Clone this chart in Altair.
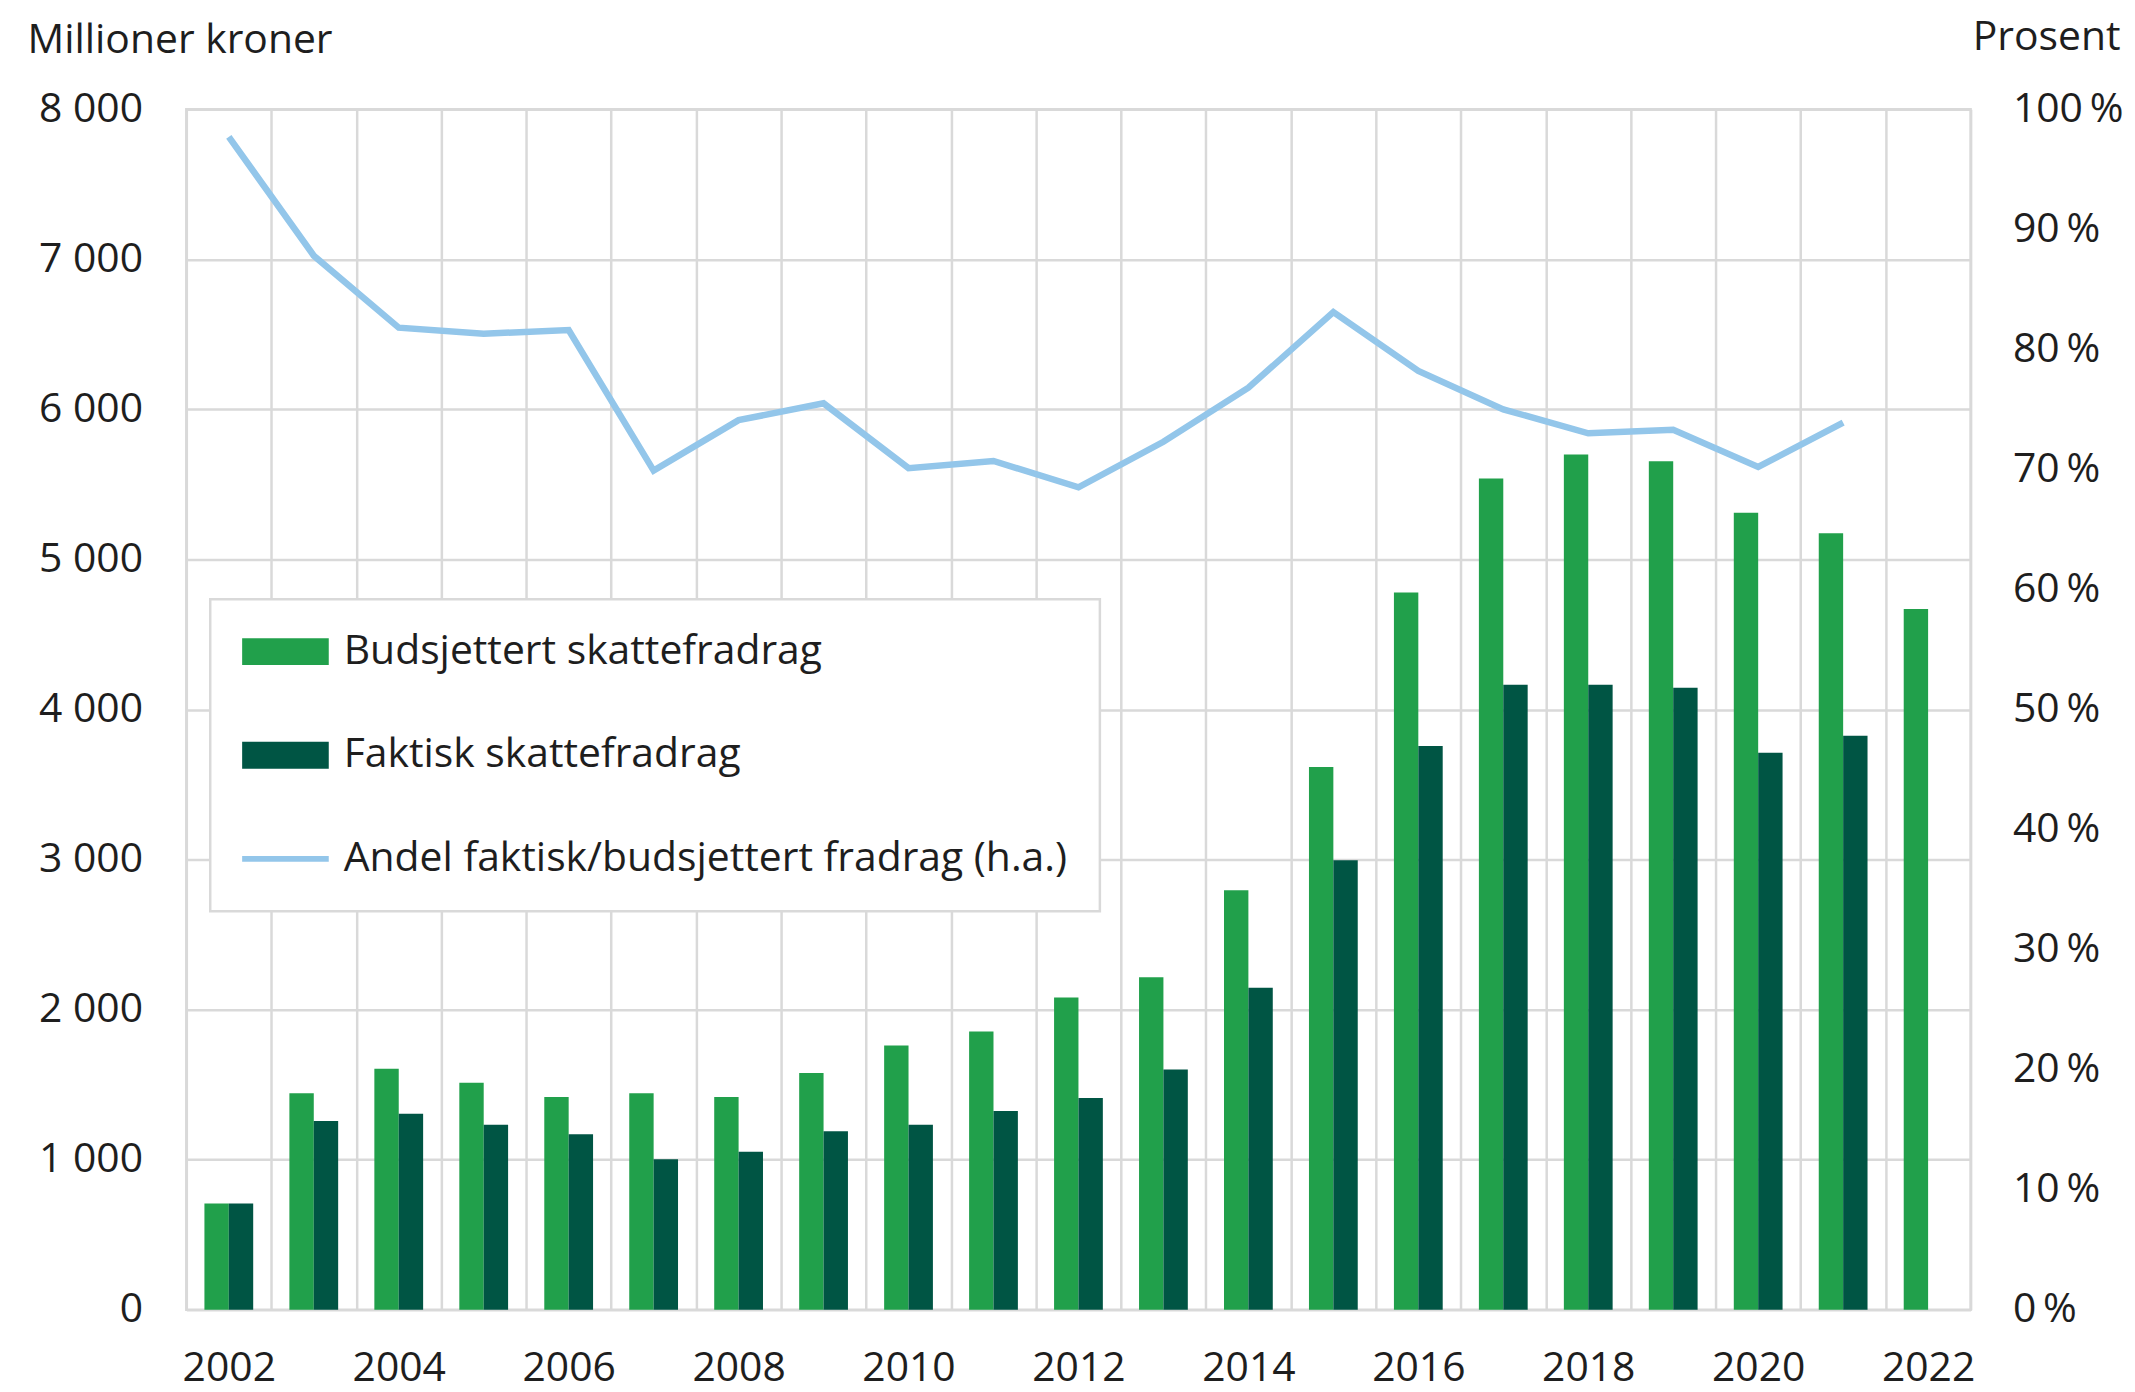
import altair as alt
import pandas as pd

years = ["2002", "2003", "2004", "2005", "2006", "2007", "2008", "2009", "2010", "2011",
         "2012", "2013", "2014", "2015", "2016", "2017", "2018", "2019", "2020", "2021", "2022"]
budsjettert = [708, 1443, 1605, 1512, 1417, 1443, 1417, 1578, 1760, 1853,
               2080, 2215, 2795, 3616, 4780, 5539, 5699, 5654, 5311, 5174, 4670]
faktisk = [708, 1257, 1306, 1233, 1169, 1003, 1052, 1189, 1233, 1324,
           1410, 1600, 2145, 2995, 3756, 4165, 4165, 4145, 3711, 3824, None]
andel_years = years[:20]
andel = [97.7, 87.8, 81.8, 81.3, 81.6, 69.9, 74.1, 75.5, 70.1, 70.7,
         68.5, 72.3, 76.8, 83.1, 78.2, 75.0, 73.0, 73.3, 70.2, 73.9]

S1 = "Budsjettert skattefradrag"
S2 = "Faktisk skattefradrag"
S3 = "Andel faktisk/budsjettert fradrag (h.a.)"
series_names = [S1, S2, S3]
series_colors = ["#21A04B", "#005544", "#93C6EA"]
legend_shapes = [
    "M-3.22,-1L3.22,-1L3.22,1L-3.22,1Z",
    "M-3.22,-1L3.22,-1L3.22,1L-3.22,1Z",
    "M-3.22,-0.22L3.22,-0.22L3.22,0.22L-3.22,0.22Z",
]
y_left_ticks = [0, 1000, 2000, 3000, 4000, 5000, 6000, 7000, 8000]
y_right_ticks = [0, 10, 20, 30, 40, 50, 60, 70, 80, 90, 100]

rows = []
for yr, b, f in zip(years, budsjettert, faktisk):
    rows.append({"year": yr, "series": S1, "value": b})
    if f is not None:
        rows.append({"year": yr, "series": S2, "value": f})
bar_df = pd.DataFrame(rows)
line_df = pd.DataFrame({"year": andel_years, "andel": andel, "series": S3})
legend_df = pd.DataFrame({"series": series_names})

FONT = "Open Sans"
FS = 41
TXT = "#1e1e1e"
GRID = "#D9D9D9"

x_enc = alt.X(
    "year:N",
    sort=years,
    scale=alt.Scale(domain=years, paddingInner=0, paddingOuter=0),
    axis=alt.Axis(
        title=None, labelAngle=0, labelExpr="toNumber(datum.label) % 2 == 0 ? datum.label : ''",
        labelOverlap=False, domain=False, ticks=False, tickSize=0, tickBand="extent",
        labelPadding=71, labelBaseline="alphabetic", grid=True,
    ),
)

bars = alt.Chart(bar_df).mark_bar().encode(
    x=x_enc,
    xOffset=alt.XOffset("series:N", scale=alt.Scale(domain=[S1, S2], paddingInner=0, paddingOuter=0.742)),
    y=alt.Y(
        "value:Q",
        scale=alt.Scale(domain=[0, 8000], nice=False),
        axis=alt.Axis(
            title="Millioner kroner", values=y_left_ticks,
            labelExpr="replace(format(datum.value, ','), ',', ' ')",
            domain=False, ticks=False, tickSize=0, labelPadding=44, labelBaseline="middle",
            titleAngle=0, titleAlign="left", titleBaseline="alphabetic",
            titleX=-160, titleY=-57, grid=True,
        ),
    ),
    fill=alt.Fill("series:N", scale=alt.Scale(domain=[S1, S2], range=series_colors[:2]), legend=None),
)

line = alt.Chart(line_df).mark_line(strokeWidth=6.5, color=series_colors[2]).encode(
    x=x_enc,
    y=alt.Y(
        "andel:Q",
        scale=alt.Scale(domain=[0, 100], nice=False),
        axis=alt.Axis(
            title="Prosent", orient="right", values=y_right_ticks,
            labelExpr="datum.value + '\u2009%'", domain=False, ticks=False, tickSize=0,
            labelPadding=42, labelBaseline="middle", grid=False,
            titleAngle=0, titleAlign="right", titleBaseline="alphabetic",
            titleX=150, titleY=-60,
        ),
    ),
)

legend_layer = alt.Chart(legend_df).mark_point(filled=True, opacity=1, size=729, strokeWidth=0).encode(
    color=alt.Color(
        "series:N", scale=alt.Scale(domain=series_names, range=series_colors),
        legend=alt.Legend(
            title=None, orient="none", legendX=24, legendY=492, direction="vertical",
            fillColor="white", strokeColor=GRID, padding=32,
            rowPadding=62, labelFont=FONT, labelFontSize=FS, labelColor=TXT, labelLimit=2000,
            symbolSize=729, symbolStrokeWidth=0, symbolOffset=23, labelOffset=38,
            symbolOpacity=1,
        ),
    ),
    shape=alt.Shape("series:N", scale=alt.Scale(domain=series_names, range=legend_shapes)),
).transform_filter("false")

chart = (
    alt.layer(bars, line, legend_layer)
    .resolve_scale(y="independent")
    .properties(
        width=1791, height=1205,
        autosize=alt.AutoSizeParams(type="none"),
        padding={"left": 179, "top": 99, "right": 157, "bottom": 72},
    )
    .configure(font=FONT, background="white")
    .configure_view(stroke=GRID, strokeWidth=2.5)
    .configure_legend(strokeWidth=2.5)
    .configure_axis(
        labelFont=FONT, titleFont=FONT, labelFontSize=FS, titleFontSize=FS,
        labelColor=TXT, titleColor=TXT, titleFontWeight="normal",
        gridColor=GRID, gridWidth=2.5,
    )
)

chart.save("out.html", embed_options={"renderer": "svg", "actions": False})
